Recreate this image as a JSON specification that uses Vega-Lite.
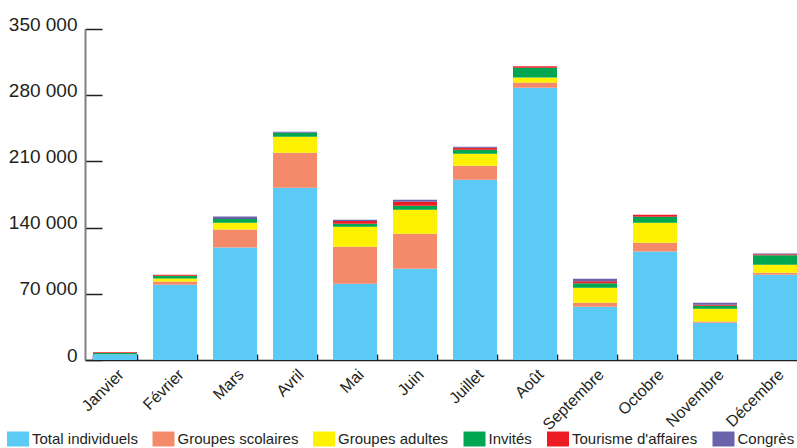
{
  "$schema": "https://vega.github.io/schema/vega-lite/v6.json",
  "autosize": "none",
  "padding": {"left": 85, "top": 29, "right": 0, "bottom": 88},
  "width": 712,
  "height": 331,
  "background": "white",
  "config": {
    "view": {"stroke": null},
    "font": "Liberation Sans",
    "axis": {"labelFont": "Liberation Sans", "labelColor": "#231f20"},
    "legend": {"labelFont": "Liberation Sans", "labelColor": "#231f20"}
  },
  "datasets": {
    "ordre": [
      {"serie": "Total individuels", "rang": 1},
      {"serie": "Groupes scolaires", "rang": 2},
      {"serie": "Groupes adultes", "rang": 3},
      {"serie": "Invités", "rang": 4},
      {"serie": "Tourisme d'affaires", "rang": 5},
      {"serie": "Congrès", "rang": 6}
    ]
  },
  "data": {
    "values": [
      {"mois": "Janvier", "serie": "Total individuels", "valeur": 6000},
      {"mois": "Janvier", "serie": "Invités", "valeur": 1500},
      {"mois": "Janvier", "serie": "Tourisme d'affaires", "valeur": 600},
      {"mois": "Février", "serie": "Total individuels", "valeur": 79600},
      {"mois": "Février", "serie": "Groupes scolaires", "valeur": 3500},
      {"mois": "Février", "serie": "Groupes adultes", "valeur": 3200},
      {"mois": "Février", "serie": "Invités", "valeur": 2800},
      {"mois": "Février", "serie": "Tourisme d'affaires", "valeur": 1000},
      {"mois": "Mars", "serie": "Total individuels", "valeur": 119000},
      {"mois": "Mars", "serie": "Groupes scolaires", "valeur": 19000},
      {"mois": "Mars", "serie": "Groupes adultes", "valeur": 7000},
      {"mois": "Mars", "serie": "Invités", "valeur": 4200},
      {"mois": "Mars", "serie": "Congrès", "valeur": 2500},
      {"mois": "Avril", "serie": "Total individuels", "valeur": 182200},
      {"mois": "Avril", "serie": "Groupes scolaires", "valeur": 37000},
      {"mois": "Avril", "serie": "Groupes adultes", "valeur": 16900},
      {"mois": "Avril", "serie": "Invités", "valeur": 4200},
      {"mois": "Avril", "serie": "Congrès", "valeur": 1000},
      {"mois": "Mai", "serie": "Total individuels", "valeur": 80700},
      {"mois": "Mai", "serie": "Groupes scolaires", "valeur": 39100},
      {"mois": "Mai", "serie": "Groupes adultes", "valeur": 21100},
      {"mois": "Mai", "serie": "Invités", "valeur": 3200},
      {"mois": "Mai", "serie": "Tourisme d'affaires", "valeur": 2800},
      {"mois": "Mai", "serie": "Congrès", "valeur": 1400},
      {"mois": "Juin", "serie": "Total individuels", "valeur": 96500},
      {"mois": "Juin", "serie": "Groupes scolaires", "valeur": 37000},
      {"mois": "Juin", "serie": "Groupes adultes", "valeur": 25400},
      {"mois": "Juin", "serie": "Invités", "valeur": 4200},
      {"mois": "Juin", "serie": "Tourisme d'affaires", "valeur": 4200},
      {"mois": "Juin", "serie": "Congrès", "valeur": 2100},
      {"mois": "Juillet", "serie": "Total individuels", "valeur": 190600},
      {"mois": "Juillet", "serie": "Groupes scolaires", "valeur": 14800},
      {"mois": "Juillet", "serie": "Groupes adultes", "valeur": 12700},
      {"mois": "Juillet", "serie": "Invités", "valeur": 4200},
      {"mois": "Juillet", "serie": "Tourisme d'affaires", "valeur": 2100},
      {"mois": "Juillet", "serie": "Congrès", "valeur": 1000},
      {"mois": "Août", "serie": "Total individuels", "valeur": 288000},
      {"mois": "Août", "serie": "Groupes scolaires", "valeur": 5300},
      {"mois": "Août", "serie": "Groupes adultes", "valeur": 5300},
      {"mois": "Août", "serie": "Invités", "valeur": 10300},
      {"mois": "Août", "serie": "Tourisme d'affaires", "valeur": 1700},
      {"mois": "Septembre", "serie": "Total individuels", "valeur": 56400},
      {"mois": "Septembre", "serie": "Groupes scolaires", "valeur": 4200},
      {"mois": "Septembre", "serie": "Groupes adultes", "valeur": 15900},
      {"mois": "Septembre", "serie": "Invités", "valeur": 4600},
      {"mois": "Septembre", "serie": "Tourisme d'affaires", "valeur": 2100},
      {"mois": "Septembre", "serie": "Congrès", "valeur": 2800},
      {"mois": "Octobre", "serie": "Total individuels", "valeur": 114800},
      {"mois": "Octobre", "serie": "Groupes scolaires", "valeur": 9200},
      {"mois": "Octobre", "serie": "Groupes adultes", "valeur": 21100},
      {"mois": "Octobre", "serie": "Invités", "valeur": 6300},
      {"mois": "Octobre", "serie": "Tourisme d'affaires", "valeur": 2100},
      {"mois": "Novembre", "serie": "Total individuels", "valeur": 39400},
      {"mois": "Novembre", "serie": "Groupes scolaires", "valeur": 1400},
      {"mois": "Novembre", "serie": "Groupes adultes", "valeur": 13400},
      {"mois": "Novembre", "serie": "Invités", "valeur": 3200},
      {"mois": "Novembre", "serie": "Tourisme d'affaires", "valeur": 1000},
      {"mois": "Novembre", "serie": "Congrès", "valeur": 2100},
      {"mois": "Décembre", "serie": "Total individuels", "valeur": 90200},
      {"mois": "Décembre", "serie": "Groupes scolaires", "valeur": 2100},
      {"mois": "Décembre", "serie": "Groupes adultes", "valeur": 8500},
      {"mois": "Décembre", "serie": "Invités", "valeur": 9900},
      {"mois": "Décembre", "serie": "Tourisme d'affaires", "valeur": 1000},
      {"mois": "Décembre", "serie": "Congrès", "valeur": 1000}
    ]
  },
  "transform": [
    {"lookup": "serie", "from": {"data": {"name": "ordre"}, "key": "serie", "fields": ["rang"]}}
  ],
  "mark": {"type": "bar"},
  "encoding": {
    "x": {
      "field": "mois",
      "type": "nominal",
      "sort": ["Janvier", "Février", "Mars", "Avril", "Mai", "Juin", "Juillet", "Août", "Septembre", "Octobre", "Novembre", "Décembre"],
      "title": null,
      "scale": {"range": [0, 720], "paddingInner": 0.2667, "paddingOuter": 0.1333},
      "axis": {
        "labelAngle": -45,
        "labelFontSize": 16,
        "labelPadding": 12,
        "tickBand": "extent",
        "tickSize": -6,
        "tickColor": "#231f20",
        "tickWidth": 1.5,
        "domainColor": "#231f20",
        "domainWidth": 1.5,
        "grid": false
      }
    },
    "y": {
      "field": "valeur",
      "type": "quantitative",
      "stack": "zero",
      "title": null,
      "scale": {"domain": [0, 350000], "nice": false},
      "axis": {
        "values": [0, 70000, 140000, 210000, 280000, 350000],
        "labelExpr": "replace(format(datum.value, ',d'), ',', ' ')",
        "labelFontSize": 19,
        "labelPadding": 25,
        "labelOffset": -5,
        "tickSize": -17,
        "tickColor": "#231f20",
        "tickWidth": 1.5,
        "domainColor": "#808080",
        "domainWidth": 2,
        "grid": false
      }
    },
    "order": {"field": "rang", "type": "quantitative", "sort": "ascending"},
    "color": {
      "field": "serie",
      "type": "nominal",
      "sort": ["Total individuels", "Groupes scolaires", "Groupes adultes", "Invités", "Tourisme d'affaires", "Congrès"],
      "scale": {
        "domain": ["Total individuels", "Groupes scolaires", "Groupes adultes", "Invités", "Tourisme d'affaires", "Congrès"],
        "range": ["#5bcbf5", "#f58a6b", "#fff200", "#00a650", "#ed1c24", "#6a63ac"]
      },
      "legend": {
        "title": null,
        "orient": "none",
        "direction": "horizontal",
        "legendX": -78,
        "legendY": 399,
        "symbolType": "M-1,-0.68H1V0.68H-1Z",
        "symbolSize": 484,
        "symbolStrokeWidth": 0,
        "symbolOpacity": 1,
        "labelFontSize": 15,
        "labelOffset": 3,
        "columnPadding": 14.5
      }
    }
  }
}
